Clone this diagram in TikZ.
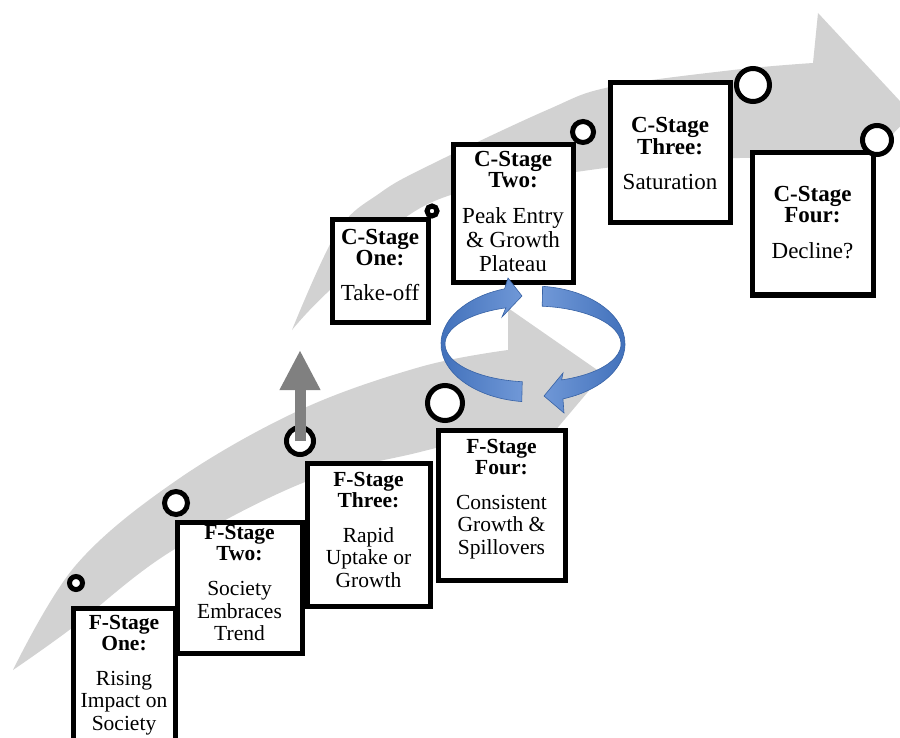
\documentclass[tikz,border=0pt]{standalone}
\usepackage{fontspec}
\setmainfont{Liberation Serif}
\usetikzlibrary{calc,arrows.meta}
\definecolor{bandgray}{RGB}{210,210,210}
\definecolor{upgray}{RGB}{128,128,128}
\definecolor{ringdark}{RGB}{62,110,185}
\definecolor{ringlight}{RGB}{112,152,215}
\definecolor{ringedge}{RGB}{55,98,165}
\begin{document}
\begin{tikzpicture}[x=1pt,y=-1pt,
  stagebox/.style={draw=black,line width=5pt,fill=white,inner sep=0pt},
  ftext/.style={anchor=north,align=center,inner sep=0pt,font=\fontsize{21.5}{21}\selectfont},
  ctext/.style={anchor=north,align=center,inner sep=0pt,font=\fontsize{23}{21}\selectfont},
  dot/.style={circle,draw=black,line width=5pt,fill=white,inner sep=0pt},
  band/.style={fill=bandgray},
  ribbon/.style={draw=ringedge,line width=0.6pt},
  uparrow/.style={draw=upgray,line width=11pt,-{Triangle[width=38pt,length=40pt]}}]
\useasboundingbox (0,0) rectangle (900,738);
\clip (0,0) rectangle (900,738);
\fill[white] (0,0) rectangle (900,738);

% lower (F) band
\fill[band] plot[smooth,tension=0.6] coordinates {(13,670) (76,565) (177,480) (300,410) (420,367) (508,350)}
  -- (508,308) -- (603,374) -- (532,458) -- (518,428)
  -- plot[smooth,tension=0.6] coordinates {(518,428) (420,452) (305,482) (170,552) (72,628) (13,670)} -- cycle;

% upper (C) band
\fill[band] plot[smooth,tension=0.6] coordinates {(292,330) (337,232) (380,193) (430,165) (547,110) (610,87) (733,70) (813,63)}
  -- (818,13) -- (912,114) -- (818,212) -- (815,162)
  -- plot[smooth,tension=0.6] coordinates {(815,162) (740,158) (590,170) (430,203) (330,290) (292,330)} -- cycle;

% circle for F-stage three and the up arrow
\node[dot,minimum size=27pt] (f3c) at (300,441) {};
\coordinate (upend) at (300,350);
\draw[uparrow] (f3c.center) -- (upend);

% stage boxes
\node[stagebox,minimum width=102pt,minimum height=132pt] (f1) at (124,674) {};
\node[stagebox,minimum width=125pt,minimum height=131pt] (f2) at (239.5,587.5) {};
\node[stagebox,minimum width=123pt,minimum height=143pt] (f3) at (368.5,534.5) {};
\node[stagebox,minimum width=127pt,minimum height=150pt] (f4) at (501.5,505) {};
\node[stagebox,minimum width=96pt,minimum height=102pt] (c1) at (380,271) {};
\node[stagebox,minimum width=120pt,minimum height=138pt] (c2) at (513,214) {};
\node[stagebox,minimum width=120pt,minimum height=140pt] (c3) at (670,153) {};
\node[stagebox,minimum width=121pt,minimum height=142pt] (c4) at (812.5,224) {};

% texts
\node[ftext] (f1t) at (124,615) {\textbf{F-Stage}\\\textbf{One:}\\[14pt]Rising\\[1.5pt]Impact on\\[1.5pt]Society};
\node[ftext] (f2t) at (239.5,525.5) {\textbf{F-Stage}\\\textbf{Two:}\\[14pt]Society\\[1.5pt]Embraces\\[1.5pt]Trend};
\node[ftext] (f3t) at (368.5,472) {\textbf{F-Stage}\\\textbf{Three:}\\[14pt]Rapid\\[1.5pt]Uptake or\\[1.5pt]Growth};
\node[ftext] (f4t) at (501.5,439) {\textbf{F-Stage}\\\textbf{Four:}\\[14pt]Consistent\\[1.5pt]Growth \&\\[1.5pt]Spillovers};
\node[ctext] (c1t) at (380,229) {\textbf{C-Stage}\\\textbf{One:}\\[14pt]Take-off};
\node[ctext] (c2t) at (513,151) {\textbf{C-Stage}\\\textbf{Two:}\\[15pt]Peak Entry\\[3pt]\& Growth\\[3pt]Plateau};
\node[ctext] (c3t) at (670,117) {\textbf{C-Stage}\\\textbf{Three:}\\[14pt]Saturation};
\node[ctext] (c4t) at (812.5,186) {\textbf{C-Stage}\\\textbf{Four:}\\[15pt]Decline?};

% circles on the box corners
\node[dot,minimum size=13pt] (f1c) at (76,583) {};
\node[dot,minimum size=23pt] (f2c) at (176,503) {};
\node[dot,minimum size=35pt] (f4c) at (445,403) {};
\node[dot,minimum size=10pt] (c1c) at (432,211) {};
\node[dot,minimum size=21pt] (c2c) at (583,132) {};
\node[dot,minimum size=33pt] (c3c) at (753,85) {};
\node[dot,minimum size=29pt] (c4c) at (877,140) {};

% blue cycle arrows
\coordinate (rc) at (533,344);
\path[ribbon,left color=ringdark,right color=ringlight]
  ($(rc)+(97:92 and 58)$) arc[start angle=97,end angle=252,x radius=92,y radius=58]
  -- (508,278) -- (522,296) -- (502,317)
  -- ($(rc)+(252:88 and 38)$) arc[start angle=252,end angle=97,x radius=88,y radius=38] -- cycle;
\path[ribbon,left color=ringlight,right color=ringdark]
  ($(rc)+(276:92 and 58)$) arc[start angle=276,end angle=431,x radius=92,y radius=58]
  -- (564,413) -- (544,396) -- (563,373)
  -- ($(rc)+(431:88 and 38)$) arc[start angle=431,end angle=276,x radius=88,y radius=38] -- cycle;
\end{tikzpicture}
\end{document}
